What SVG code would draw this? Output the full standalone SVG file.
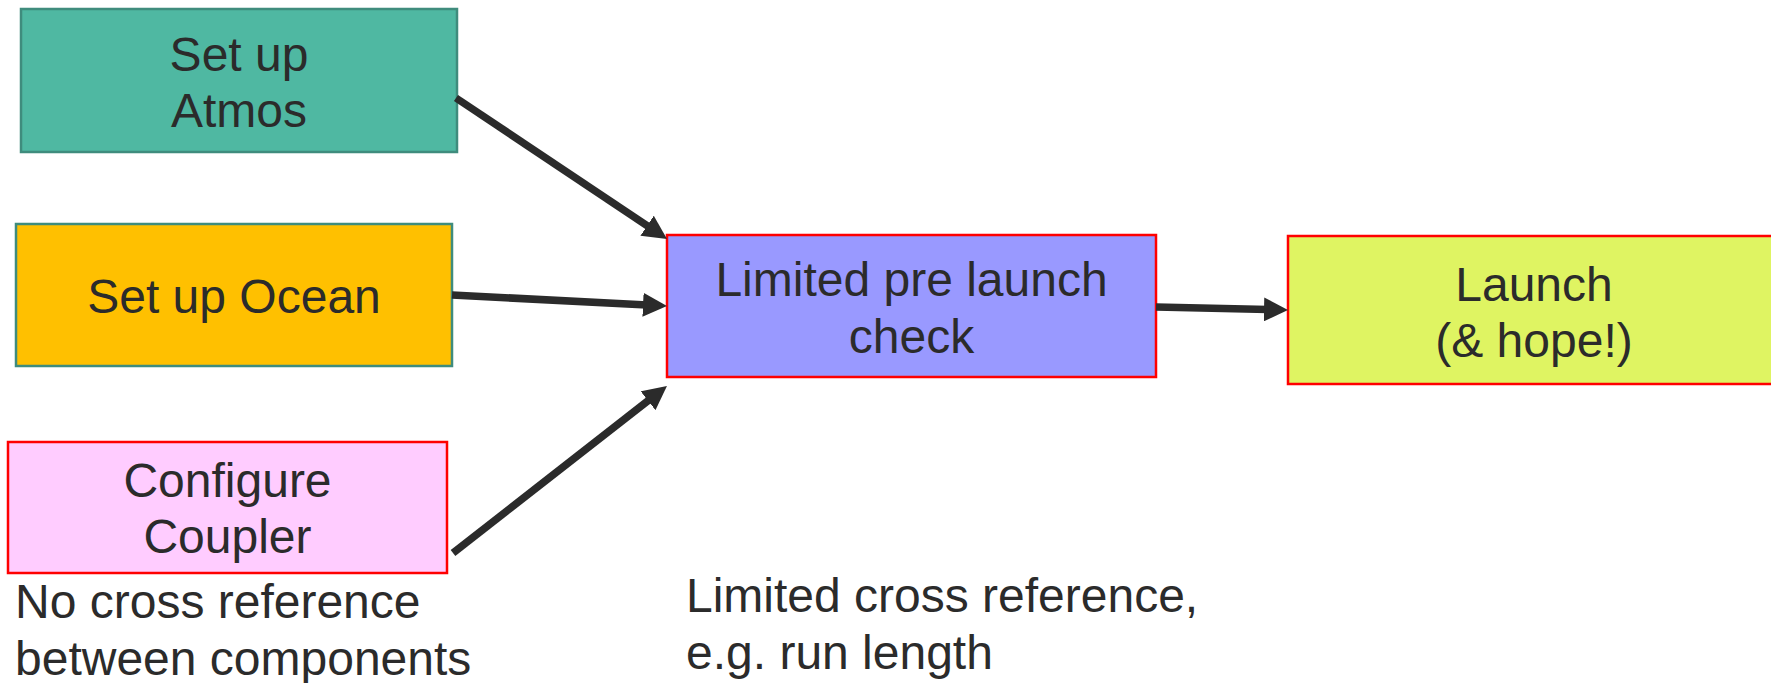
<svg xmlns="http://www.w3.org/2000/svg" width="1771" height="683" viewBox="0 0 1771 683">
  <style>
    .box { stroke-width: 2.5; }
    .teal { stroke: #3f8c7d; }
    .red { stroke: #ff0000; }
    .lbl { font-family: "Liberation Sans", Arial, sans-serif; font-size: 48px; fill: #2b2b2b; }
    .mid { text-anchor: middle; }
    .edge { stroke: #2b2b2b; stroke-width: 7.5; fill: none; marker-end: url(#head); }
  </style>
  <defs>
    <marker id="head" markerUnits="userSpaceOnUse" markerWidth="24" markerHeight="24" refX="4" refY="12" orient="auto">
      <path d="M0,0 L24,12 L0,24 z" fill="#2b2b2b"/>
    </marker>
  </defs>
  <rect width="1771" height="683" fill="#ffffff"/>

  <g id="atmos">
    <rect class="box teal" x="21" y="9" width="436" height="143" fill="#4fb8a2"/>
    <text class="lbl mid" x="239" y="71">Set up</text>
    <text class="lbl mid" x="239" y="127">Atmos</text>
  </g>

  <g id="ocean">
    <rect class="box teal" x="16" y="224" width="436" height="142" fill="#ffc000"/>
    <text class="lbl mid" x="234" y="313">Set up Ocean</text>
  </g>

  <g id="coupler">
    <rect class="box red" x="8" y="442" width="439" height="131" fill="#ffccff"/>
    <text class="lbl mid" x="227.5" y="497">Configure</text>
    <text class="lbl mid" x="227.5" y="553">Coupler</text>
  </g>

  <g id="precheck">
    <rect class="box red" x="667" y="235" width="489" height="142" fill="#9999ff"/>
    <text class="lbl mid" x="911.5" y="296">Limited pre launch</text>
    <text class="lbl mid" x="911.5" y="353">check</text>
  </g>

  <g id="launch">
    <rect class="box red" x="1288" y="236" width="492" height="148" fill="#dff462"/>
    <text class="lbl mid" x="1534" y="301">Launch</text>
    <text class="lbl mid" x="1534" y="357">(&amp; hope!)</text>
  </g>

  <g id="note-none">
    <text class="lbl" x="15" y="618">No cross reference</text>
    <text class="lbl" x="15" y="675">between components</text>
  </g>

  <g id="note-limited">
    <text class="lbl" x="686" y="612">Limited cross reference,</text>
    <text class="lbl" x="686" y="669">e.g. run length</text>
  </g>

  <g id="connectors">
    <line class="edge" x1="456" y1="98" x2="650.4" y2="227.9"/>
    <line class="edge" x1="452" y1="295" x2="647" y2="305"/>
    <line class="edge" x1="453" y1="553" x2="651.2" y2="398.3"/>
    <line class="edge" x1="1156" y1="307" x2="1268" y2="309.5"/>
  </g>
</svg>
